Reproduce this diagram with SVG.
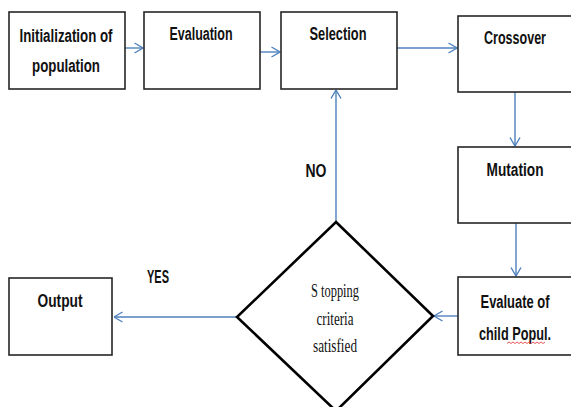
<svg xmlns="http://www.w3.org/2000/svg" width="571" height="407" viewBox="0 0 571 407">
  <style>
    .box { fill: #ffffff; stroke: #262626; stroke-width: 1.6; }
    .dia { fill: #ffffff; stroke: #000000; stroke-width: 2.6; }
    .lbl { font-family: "Liberation Sans Narrow", "Liberation Sans", Arial, sans-serif; font-weight: bold; font-size: 18px; fill: #111111; text-anchor: middle; }
    .ser { font-family: "Liberation Serif", "Times New Roman", serif; font-size: 18px; fill: #111111; text-anchor: middle; }
    .link { fill: none; stroke: #4f81bd; stroke-width: 1.4; }
  </style>
  <defs>
    <marker id="open" viewBox="0 0 10 12" refX="9.5" refY="6" markerWidth="10" markerHeight="12" markerUnits="userSpaceOnUse" orient="auto">
      <path d="M1,1 L9.5,6 L1,11" fill="none" stroke="#4f81bd" stroke-width="1.4"/>
    </marker>
  </defs>
  <rect width="571" height="407" fill="#ffffff"/>

  <g id="connectors">
    <line class="link" x1="125" y1="48" x2="143" y2="48" marker-end="url(#open)"/>
    <line class="link" x1="260" y1="52" x2="280" y2="52" marker-end="url(#open)"/>
    <line class="link" x1="397" y1="48" x2="457" y2="48" marker-end="url(#open)"/>
    <line class="link" x1="515" y1="92" x2="515" y2="146" marker-end="url(#open)"/>
    <line class="link" x1="516" y1="223" x2="516" y2="276" marker-end="url(#open)"/>
    <line class="link" x1="458" y1="316" x2="434" y2="316" marker-end="url(#open)"/>
    <line class="link" x1="336" y1="222" x2="336" y2="90" marker-end="url(#open)"/>
    <line class="link" x1="237" y1="317" x2="114" y2="317" marker-end="url(#open)"/>
    <text class="lbl" x="316" y="177" textLength="21" lengthAdjust="spacingAndGlyphs">NO</text>
    <text class="lbl" x="158" y="283" textLength="22" lengthAdjust="spacingAndGlyphs">YES</text>
  </g>

  <g id="init">
    <rect class="box" x="9" y="12" width="116" height="77"/>
    <text class="lbl" x="66" y="42" textLength="93" lengthAdjust="spacingAndGlyphs">Initialization of</text>
    <text class="lbl" x="66" y="72" textLength="68" lengthAdjust="spacingAndGlyphs">population</text>
  </g>

  <g id="evaluation">
    <rect class="box" x="144" y="12" width="116" height="77"/>
    <text class="lbl" x="201" y="40" textLength="63" lengthAdjust="spacingAndGlyphs">Evaluation</text>
  </g>

  <g id="selection">
    <rect class="box" x="281" y="12" width="116" height="77"/>
    <text class="lbl" x="338" y="40" textLength="57" lengthAdjust="spacingAndGlyphs">Selection</text>
  </g>

  <!-- the right-hand column runs to the page edge -->
  <g id="crossover">
    <rect class="box" x="458" y="16" width="114" height="76"/>
    <text class="lbl" x="515" y="44" textLength="62" lengthAdjust="spacingAndGlyphs">Crossover</text>
  </g>

  <g id="mutation">
    <rect class="box" x="458" y="147" width="114" height="76"/>
    <text class="lbl" x="515" y="176" textLength="57" lengthAdjust="spacingAndGlyphs">Mutation</text>
  </g>

  <g id="evaluate-child">
    <rect class="box" x="458" y="277" width="114" height="78"/>
    <text class="lbl" x="515" y="308" textLength="69" lengthAdjust="spacingAndGlyphs">Evaluate of</text>
    <text class="lbl" x="515" y="340" textLength="72" lengthAdjust="spacingAndGlyphs">child Popul.</text>
    <path d="M507,343.5 l2,-1.5 l2,1.5 l2,-1.5 l2,1.5 l2,-1.5 l2,1.5 l2,-1.5 l2,1.5 l2,-1.5 l2,1.5 l2,-1.5 l2,1.5 l2,-1.5 l2,1.5 l2,-1.5 l2,1.5 l2,-1.5 l2,1.5 l2,-1.5" fill="none" stroke="#e03030" stroke-width="0.8"/>
  </g>

  <g id="stopping">
    <polygon class="dia" points="336,222 433,316 336,411 237,317"/>
    <text class="ser" x="335" y="297" textLength="48" lengthAdjust="spacingAndGlyphs">S topping</text>
    <text class="ser" x="335" y="325" textLength="37" lengthAdjust="spacingAndGlyphs">criteria</text>
    <text class="ser" x="335" y="352" textLength="44" lengthAdjust="spacingAndGlyphs">satisfied</text>
  </g>

  <g id="output">
    <rect class="box" x="9" y="278" width="103" height="77"/>
    <text class="lbl" x="60" y="307" textLength="45" lengthAdjust="spacingAndGlyphs">Output</text>
  </g>
</svg>
